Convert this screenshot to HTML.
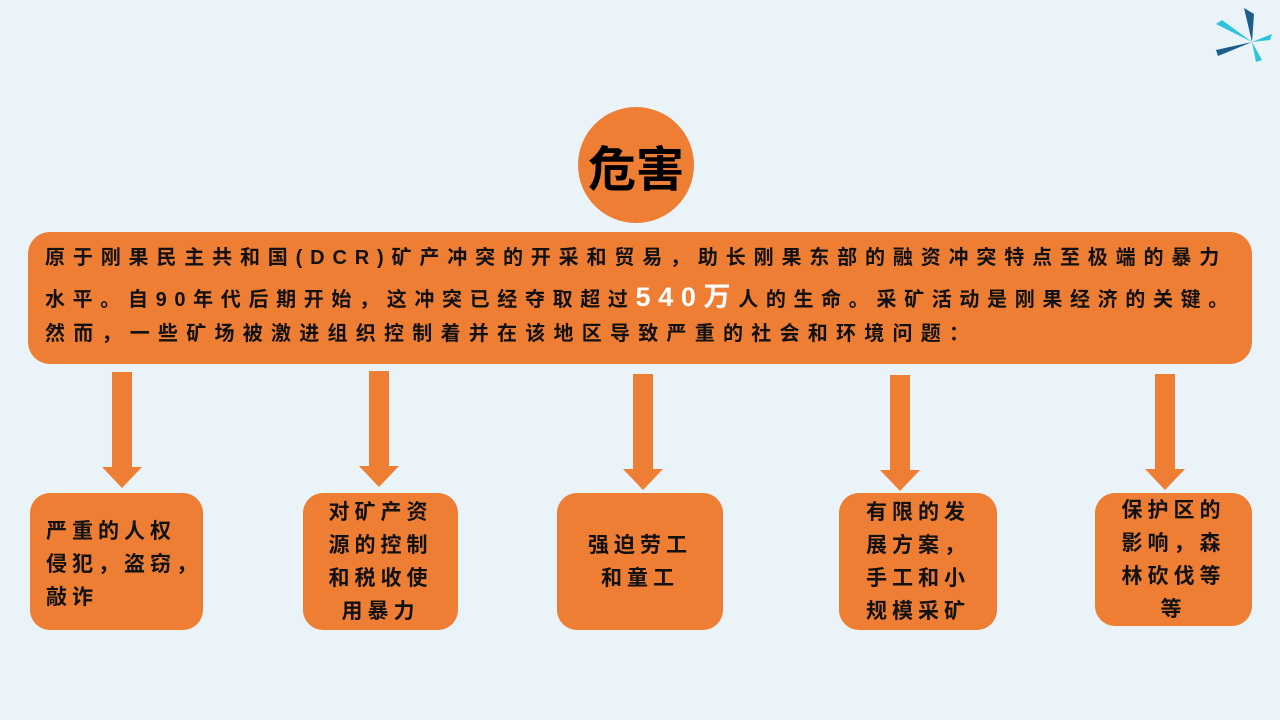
<!DOCTYPE html>
<html><head><meta charset="utf-8"><style>
html,body{margin:0;padding:0}
body{width:1280px;height:720px;background:#E9F3F8;position:relative;overflow:hidden;font-family:"Liberation Sans","Noto Sans CJK SC",sans-serif;font-weight:bold;color:#111}
.o{background:#EE7E33;position:absolute}
.circ{left:578px;top:107px;width:116px;height:116px;border-radius:50%;display:flex;align-items:center;justify-content:center;font-size:48px;color:#000}
.main{left:28px;top:232px;width:1224px;height:132px;border-radius:22px}
.main p{position:absolute;left:17px;margin:0;font-size:20px;letter-spacing:7.4px;white-space:nowrap;line-height:26px}
.big{color:#fff;font-size:27px}
.sh{position:absolute;width:20px;background:#EE7E33}
.hd{position:absolute;width:0;height:0;border-left:20px solid transparent;border-right:20px solid transparent;border-top:21px solid #EE7E33}
.bx{border-radius:20px;font-size:21px;letter-spacing:5px;line-height:33px;display:flex;align-items:center;justify-content:center;text-align:center;color:#111}
</style></head><body>
<svg style="position:absolute;left:1212px;top:6px" width="60" height="56" viewBox="0 0 60 56">
<polygon points="32,2 42,8 40,36" fill="#1B5E8C"/>
<polygon points="4,18 10,14 40,36" fill="#2EC3DD"/>
<polygon points="40,36 60,28 58,34" fill="#2EC3DD"/>
<polygon points="40,36 6,50 4,44" fill="#1B5E8C"/>
<polygon points="40,36 50,54 44,56" fill="#2EC3DD"/>
</svg>
<div class="o circ">危害</div>
<div class="o main">
<p style="top:13px;letter-spacing:7.85px">原于刚果民主共和国(DCR)矿产冲突的开采和贸易，助长刚果东部的融资冲突特点至极端的暴力</p>
<p style="top:52px;letter-spacing:7.65px">水平。自90年代后期开始，这冲突已经夺取超过<span class="big">540万</span>人的生命。采矿活动是刚果经济的关键。</p>
<p style="top:89px;letter-spacing:8.25px">然而，一些矿场被激进组织控制着并在该地区导致严重的社会和环境问题：</p>
</div>

<div class="sh" style="left:112px;top:372px;height:96px"></div><div class="hd" style="left:102px;top:467px"></div>
<div class="sh" style="left:369px;top:371px;height:96px"></div><div class="hd" style="left:359px;top:466px"></div>
<div class="sh" style="left:633px;top:374px;height:96px"></div><div class="hd" style="left:623px;top:469px"></div>
<div class="sh" style="left:890px;top:375px;height:96px"></div><div class="hd" style="left:880px;top:470px"></div>
<div class="sh" style="left:1155px;top:374px;height:96px"></div><div class="hd" style="left:1145px;top:469px"></div>

<div class="o bx" style="left:30px;top:493px;width:173px;height:137px;justify-content:flex-start;text-align:left"><div style="padding-left:16px;margin-top:6px">严重的人权<br>侵犯，盗窃，<br>敲诈</div></div>
<div class="o bx" style="left:303px;top:493px;width:155px;height:137px"><div>对矿产资<br>源的控制<br>和税收使<br>用暴力</div></div>
<div class="o bx" style="left:557px;top:493px;width:166px;height:137px"><div>强迫劳工<br>和童工</div></div>
<div class="o bx" style="left:839px;top:493px;width:158px;height:137px"><div>有限的发<br>展方案，<br>手工和小<br>规模采矿</div></div>
<div class="o bx" style="left:1095px;top:493px;width:157px;height:133px"><div>保护区的<br>影响，森<br>林砍伐等<br>等</div></div>
</body></html>
